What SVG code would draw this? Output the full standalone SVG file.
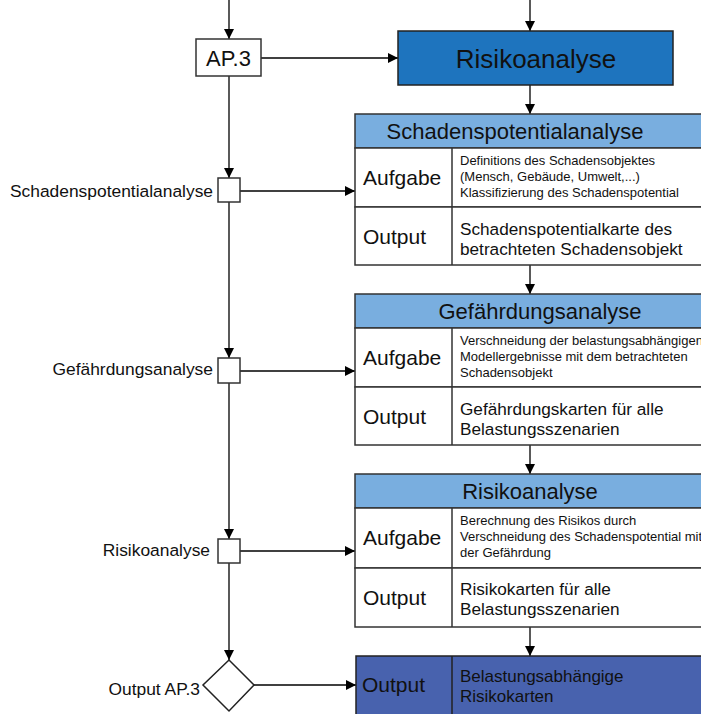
<svg xmlns="http://www.w3.org/2000/svg" width="701" height="714" viewBox="0 0 701 714">
<defs>
<marker id="ah" markerWidth="10" markerHeight="10" refX="10" refY="5" orient="auto" markerUnits="userSpaceOnUse" viewBox="0 0 10 10">
<path d="M0,0 L10,5 L0,10 Z" fill="#000"/>
</marker>
<style>
text{font-family:"Liberation Sans",Arial,sans-serif;fill:#111}
.bx{stroke:#333;stroke-width:1.5}
.ln{stroke:#000;stroke-width:1.3;fill:none;marker-end:url(#ah)}
.pl{stroke:#333;stroke-width:1.5;fill:none}
.hd{fill:#79AEDF}
.w{fill:#fff}
.lab{font-size:17.4px;text-anchor:end}
.ttl{font-size:22px;text-anchor:middle}
.cell{font-size:21px}
.sm{font-size:13px}
.md{font-size:17.2px}
</style>
</defs>
<g id="connectors">
<line class="ln" x1="229" y1="0" x2="229" y2="39"/>
<line class="ln" x1="229" y1="76" x2="229" y2="178"/>
<line class="ln" x1="229" y1="202" x2="229" y2="358"/>
<line class="ln" x1="229" y1="383" x2="229" y2="539"/>
<line class="ln" x1="229" y1="563" x2="229" y2="660"/>
<line class="ln" x1="530" y1="0" x2="530" y2="31"/>
<line class="ln" x1="530" y1="85" x2="530" y2="114"/>
<line class="ln" x1="530" y1="265" x2="530" y2="294"/>
<line class="ln" x1="530" y1="445" x2="530" y2="474"/>
<line class="ln" x1="530" y1="627" x2="530" y2="656"/>
<line class="ln" x1="261" y1="58" x2="398" y2="58"/>
<line class="ln" x1="240" y1="191" x2="355" y2="191"/>
<line class="ln" x1="240" y1="371" x2="355" y2="371"/>
<line class="ln" x1="240" y1="551" x2="355" y2="551"/>
<line class="ln" x1="254" y1="685" x2="356" y2="685"/>
</g>
<g id="ap3">
<rect class="bx w" x="196" y="39" width="65" height="37"/>
<text x="228.5" y="66" font-size="22" text-anchor="middle">AP.3</text>
</g>
<g id="risikoanalyse-main">
<rect x="398" y="31" width="275" height="54" fill="#1E74BE" stroke="#222" stroke-width="1.5"/>
<text x="536" y="68" font-size="26" text-anchor="middle">Risikoanalyse</text>
</g>
<g id="step1">
<rect class="bx w" x="218" y="178" width="22" height="24"/>
<text class="lab" x="213" y="197">Schadenspotentialanalyse</text>
</g>
<g id="step2">
<rect class="bx w" x="218" y="358" width="22" height="25"/>
<text class="lab" x="213" y="375">Gefährdungsanalyse</text>
</g>
<g id="step3">
<rect class="bx w" x="218" y="539" width="22" height="24"/>
<text class="lab" x="210" y="556">Risikoanalyse</text>
</g>
<g id="output-ap3">
<polygon points="229,660 254,685 229,711 203,685" fill="#fff" stroke="#222" stroke-width="1.5"/>
<text x="200" y="695" font-size="17.4" text-anchor="end">Output AP.3</text>
</g>
<g id="table1">
<rect class="bx hd" x="355" y="114" width="350" height="34"/>
<rect class="bx w" x="355" y="148" width="350" height="59"/>
<rect class="bx w" x="355" y="207" width="350" height="58"/>
<line class="pl" x1="452" y1="148" x2="452" y2="265"/>
<text class="ttl" x="515" y="139">Schadenspotentialanalyse</text>
<text class="cell" x="363" y="185">Aufgabe</text>
<text class="cell" x="363" y="244">Output</text>
<text class="sm" x="460" y="165">Definitions des Schadensobjektes</text>
<text class="sm" x="460" y="181">(Mensch, Gebäude, Umwelt,...)</text>
<text class="sm" x="460" y="197">Klassifizierung des Schadenspotential</text>
<text class="md" x="460" y="235">Schadenspotentialkarte des</text>
<text class="md" x="460" y="255">betrachteten Schadensobjekt</text>
</g>
<g id="table2">
<rect class="bx hd" x="355" y="294" width="350" height="34"/>
<rect class="bx w" x="355" y="328" width="350" height="59"/>
<rect class="bx w" x="355" y="387" width="350" height="58"/>
<line class="pl" x1="452" y1="328" x2="452" y2="445"/>
<text class="ttl" x="540" y="319">Gefährdungsanalyse</text>
<text class="cell" x="363" y="365">Aufgabe</text>
<text class="cell" x="363" y="424">Output</text>
<text class="sm" x="460" y="345">Verschneidung der belastungsabhängigen</text>
<text class="sm" x="460" y="361">Modellergebnisse mit dem betrachteten</text>
<text class="sm" x="460" y="377">Schadensobjekt</text>
<text class="md" x="460" y="415">Gefährdungskarten für alle</text>
<text class="md" x="460" y="435">Belastungsszenarien</text>
</g>
<g id="table3">
<rect class="bx hd" x="355" y="474" width="350" height="34"/>
<rect class="bx w" x="355" y="508" width="350" height="60"/>
<rect class="bx w" x="355" y="568" width="350" height="59"/>
<line class="pl" x1="452" y1="508" x2="452" y2="627"/>
<text class="ttl" x="530" y="499">Risikoanalyse</text>
<text class="cell" x="363" y="545">Aufgabe</text>
<text class="cell" x="363" y="605">Output</text>
<text class="sm" x="460" y="525">Berechnung des Risikos durch</text>
<text class="sm" x="460" y="541">Verschneidung des Schadenspotential mit</text>
<text class="sm" x="460" y="557">der Gefährdung</text>
<text class="md" x="460" y="595">Risikokarten für alle</text>
<text class="md" x="460" y="615">Belastungsszenarien</text>
</g>
<g id="output-final">
<rect x="356" y="656" width="350" height="64" fill="#4862AE" stroke="#222" stroke-width="1.5"/>
<line x1="452" y1="656" x2="452" y2="720" stroke="#222" stroke-width="1.5"/>
<text x="362" y="692" font-size="21">Output</text>
<text x="460" y="682" font-size="17">Belastungsabhängige</text>
<text x="460" y="702" font-size="17">Risikokarten</text>
</g>
</svg>
